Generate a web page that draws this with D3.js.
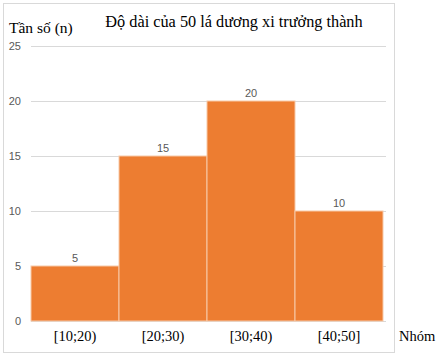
<!DOCTYPE html>
<html><head><meta charset="utf-8">
<script src="https://cdn.jsdelivr.net/npm/d3@7"></script>
<style>body{margin:0;background:#fff}</style>
</head><body>
<svg id="c" width="444" height="358"></svg>
<script>
const categories = ["[10;20)", "[20;30)", "[30;40)", "[40;50]"];
const values = [5, 15, 20, 10];
const yTicks = [0, 5, 10, 15, 20, 25];
const title = "Độ dài của 50 lá dương xi trưởng thành";
const yLabel = "Tần số (n)";
const xLabel = "Nhóm";

(function () {
const svg = d3.select("#c");
const pLeft = 31, pRight = 383, pTop = 46, pBottom = 321;
svg.append("rect").attr("x", 3.5).attr("y", 3.5).attr("width", 391).attr("height", 349)
  .attr("fill", "#fff").attr("stroke", "#d9d9d9");

const x = d3.scaleBand().domain(categories).range([pLeft, pRight]).padding(0);
const y = d3.scaleLinear().domain([0, 25]).range([pBottom, pTop]);

svg.append("g").selectAll("line").data(yTicks).join("line")
  .attr("x1", pLeft).attr("x2", 386)
  .attr("y1", d => Math.round(y(d)) + 0.5).attr("y2", d => Math.round(y(d)) + 0.5)
  .attr("stroke", "#d9d9d9");

const yAxis = d3.axisLeft(y).tickValues(yTicks).tickSize(0).tickPadding(0);
const ga = svg.append("g").attr("transform", `translate(21,0)`).call(yAxis);
ga.select(".domain").remove();
ga.selectAll("text").attr("fill", "#595959").attr("font-family", "Liberation Sans, Arial, sans-serif").attr("font-size", 11);

svg.append("g").selectAll("rect").data(values).join("rect")
  .attr("x", (d, i) => x(categories[i]))
  .attr("y", d => y(d))
  .attr("width", x.bandwidth())
  .attr("height", d => y(0) - y(d))
  .attr("fill", "#ED7D31")
  .attr("stroke", "#f7c9a8").attr("stroke-width", 1);

svg.append("g").selectAll("text").data(values).join("text")
  .attr("x", (d, i) => x(categories[i]) + x.bandwidth() / 2)
  .attr("y", d => y(d) - 4)
  .attr("text-anchor", "middle")
  .attr("fill", "#595959").attr("font-family", "Liberation Sans, Arial, sans-serif").attr("font-size", 11)
  .text(d => d);

const xAxis = d3.axisBottom(x).tickSize(0).tickPadding(0);
const gx = svg.append("g").attr("transform", `translate(0,${pBottom})`).call(xAxis);
gx.select(".domain").remove();
gx.selectAll("text").attr("dy", null).attr("y", 20)
  .attr("fill", "#000").attr("font-family", "Liberation Serif, Times New Roman, serif").attr("font-size", 14.5);

svg.append("text").attr("x", 399).attr("y", 341)
  .attr("font-family", "Liberation Serif, Times New Roman, serif").attr("font-size", 14.5).text(xLabel);
svg.append("text").attr("x", 9).attr("y", 33)
  .attr("font-family", "Liberation Serif, Times New Roman, serif").attr("font-size", 15.5).text(yLabel);
svg.append("text").attr("x", 234).attr("y", 27).attr("text-anchor", "middle")
  .attr("font-family", "Liberation Serif, Times New Roman, serif").attr("font-size", 16.3).text(title);
})();
</script>
</body></html>
